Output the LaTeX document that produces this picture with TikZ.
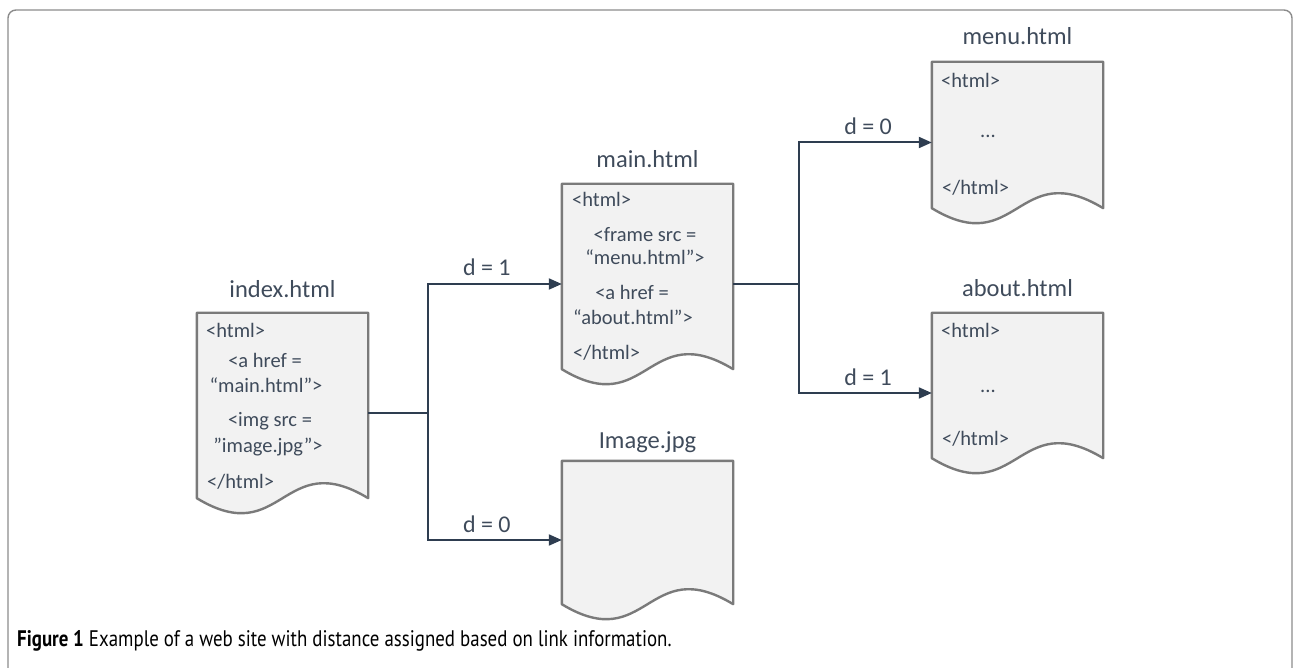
\documentclass[tikz,border=0pt]{standalone}
\usepackage{fontspec}
\usepackage{graphicx}
\setmainfont{Carlito}
\newfontfamily\capfont{PT Sans}
\usetikzlibrary{arrows.meta,positioning,calc}

\definecolor{txtcol}{HTML}{3F4B5B}
\definecolor{linkcol}{HTML}{2E3D50}
\definecolor{docfill}{HTML}{F2F2F2}
\definecolor{docdraw}{HTML}{7A7A7A}
\definecolor{framecol}{HTML}{8C8C8C}

\tikzset{
  doc/.style={minimum width=171pt, inner sep=0pt},
  docline/.style={draw=docdraw, fill=docfill, line width=2.4pt, line join=round},
  title/.style={anchor=base, inner sep=0pt, text=txtcol, font=\fontsize{24.5}{28}\selectfont},
  code/.style={anchor=base west, inner sep=0pt, text=txtcol, font=\fontsize{20.5}{24}\selectfont},
  codec/.style={code, anchor=base},
  link/.style={draw=linkcol, line width=2pt, -{Triangle[length=13pt,width=11pt]}},
  trunk/.style={draw=linkcol, line width=2pt},
  dist/.style={above=8pt, anchor=base, inner sep=0pt, text=txtcol, font=\fontsize{24}{28}\selectfont},
  frame/.style={draw=framecol, line width=1.4pt, rounded corners=8pt}
}

% document outline with a wavy bottom, drawn from the node anchors
\newcommand\docshape[1]{%
  \path[docline] (#1.north west) -- (#1.north east) -- ([yshift=15pt]#1.south east)
    .. controls ([yshift=67pt]#1.south) and ([yshift=-37pt]#1.south) .. ([yshift=15pt]#1.south west) -- cycle;}

\begin{document}
\begin{tikzpicture}[x=1pt, y=-1pt]
\useasboundingbox (0,0) rectangle (1294,668);
\clip (0,0) rectangle (1294,668);
\path[frame] (8,700) -- (8,10) -- (1292,10) -- (1292,700);

% index.html
\node[doc, minimum height=200pt] (index) at (282.5,413) {};
\docshape{index}
\node[title] (indextitle) at (282.5,298) {index.html};
\node[code] (index1) at (206,338) {<html>};
\node[codec] (index2) at (265,368) {<a href =};
\node[codec] (index3) at (266,392) {“main.html”>};
\node[codec] (index4) at (270,427) {<img src =};
\node[codec] (index5) at (268,452) {”image.jpg”>};
\node[code] (index6) at (207,488) {</html>};

% main.html
\node[doc, minimum height=200pt] (main) at (647.5,284) {};
\docshape{main}
\node[title] (maintitle) at (647.5,168) {main.html};
\node[code] (main1) at (572,207) {<html>};
\node[codec] (main2) at (645,242) {<frame src =};
\node[codec] (main3) at (645,265) {“menu.html”>};
\node[codec] (main4) at (632,300) {<a href =};
\node[codec] (main5) at (633,325) {“about.html”>};
\node[code] (main6) at (573,360) {</html>};

% Image.jpg
\node[doc, minimum height=158pt] (image) at (647.5,540) {};
\docshape{image}
\node[title] (imagetitle) at (647.5,448) {Image.jpg};

% menu.html
\node[doc, minimum height=161pt] (menu) at (1017.5,142.5) {};
\docshape{menu}
\node[title] (menutitle) at (1017.5,45) {menu.html};
\node[code] (menu1) at (941,88) {<html>};
\node[codec] (menu2) at (988,138) {...};
\node[code] (menu3) at (942,195) {</html>};

% about.html
\node[doc, minimum height=160pt] (about) at (1017.5,393) {};
\docshape{about}
\node[title] (abouttitle) at (1017.5,297) {about.html};
\node[code] (about1) at (941,338) {<html>};
\node[codec] (about2) at (988,393) {...};
\node[code] (about3) at (942,445) {</html>};

% links
\coordinate (fork1) at (428,413);
\coordinate (fork2) at (799,284);
\draw[trunk] (index.east) -- (fork1);
\draw[link] (fork1) |- node[dist, pos=0.72] (dmain) {d = 1} (main.west);
\draw[link] (fork1) |- node[dist, pos=0.72] (dimage) {d = 0} (image.west);
\draw[trunk] (main.east) -- (fork2);
\draw[link] (fork2) |- node[dist, pos=0.76] (dmenu) {d = 0} (menu.west);
\draw[link] (fork2) |- node[dist, pos=0.76] (dabout) {d = 1} (about.west);

% caption
\node[anchor=base west, inner sep=0pt, font=\capfont\fontsize{22.5}{26}\selectfont] (caption) at (17,646)
  {\scalebox{0.84}[1]{\textbf{Figure 1} Example of a web site with distance assigned based on link information.}};
\end{tikzpicture}
\end{document}
